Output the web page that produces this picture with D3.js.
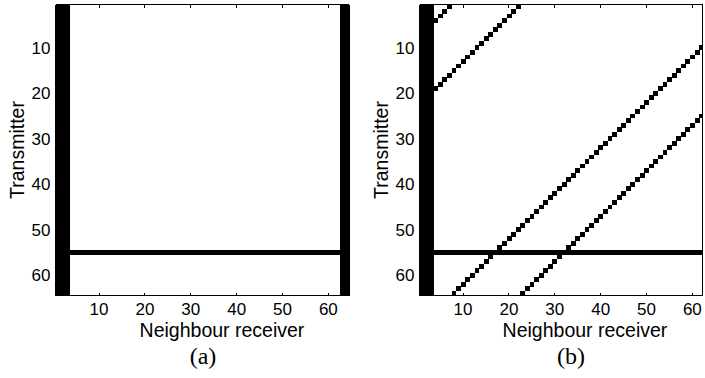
<!DOCTYPE html>
<html>
<head>
<meta charset="utf-8">
<script src="https://cdn.jsdelivr.net/npm/d3@7"></script>
<style>
  html, body { margin: 0; padding: 0; background: #fff; }
  svg { display: block; }
  text { font-family: "Liberation Sans", Arial, Helvetica, sans-serif; fill: #000; }
  .caption { font-family: "Liberation Serif", "Times New Roman", serif; }
</style>
</head>
<body>
<svg id="chart" width="705" height="378"></svg>
<script>
// matrix size (rows = transmitter, columns = neighbour receiver)
const nCells = 64;
const tickValues = [10, 20, 30, 40, 50, 60];

// cells that are black in both panels
const blackColumns = [1, 2, 3, 63, 64];
const blackRows = [55];

// panel (b) only: diagonal runs, one cell per column going up-right
const diagonalRuns = [
  { col: 4, row: 4, length: 4 },
  { col: 4, row: 19, length: 19 },
  { col: 8, row: 64, length: 57 },
  { col: 23, row: 64, length: 42 }
];

const panels = [
  { name: '(a)', left: 55.5, right: 349, clip: 349, diagonals: false, xLabel: 222, caption: 203 },
  { name: '(b)', left: 419.5, right: 713, clip: 702.5, diagonals: true, xLabel: 585, caption: 571 }
];

const yTop = 4.5, yBottom = 295.5;
const svg = d3.select('#chart');
svg.append('rect').attr('width', 705).attr('height', 378).attr('fill', '#fff');

panels.forEach((p, i) => {
  const x = d3.scaleLinear().domain([0.5, nCells + 0.5]).range([p.left, p.right]);
  const y = d3.scaleLinear().domain([0.5, nCells + 0.5]).range([yTop, yBottom]);

  svg.append('clipPath').attr('id', 'clip' + i)
    .append('rect')
    .attr('x', p.left).attr('y', yTop)
    .attr('width', p.clip - p.left).attr('height', yBottom - yTop);

  const g = svg.append('g').attr('clip-path', `url(#clip${i})`)
    .attr('shape-rendering', 'crispEdges');

  // build the list of black cells
  let cells = [];
  d3.range(1, nCells + 1).forEach(r => {
    blackColumns.forEach(c => cells.push({ r, c }));
  });
  d3.range(1, nCells + 1).forEach(c => {
    blackRows.forEach(r => cells.push({ r, c }));
  });
  if (p.diagonals) {
    diagonalRuns.forEach(d => {
      d3.range(d.length).forEach(k => cells.push({ r: d.row - k, c: d.col + k }));
    });
  }

  g.selectAll('rect.cell').data(cells).join('rect')
    .attr('class', 'cell')
    .attr('x', d => x(d.c - 0.5))
    .attr('y', d => y(d.r - 0.5))
    .attr('width', d => x(d.c + 0.5) - x(d.c - 0.5) + 0.3)
    .attr('height', d => y(d.r + 0.5) - y(d.r - 0.5) + 0.3)
    .attr('fill', '#000');

  // frame
  const fr = svg.append('g').attr('stroke', '#000').attr('stroke-width', 1)
    .attr('shape-rendering', 'crispEdges');
  fr.append('line').attr('x1', p.left).attr('x2', p.clip).attr('y1', yTop).attr('y2', yTop);
  fr.append('line').attr('x1', p.left).attr('x2', p.clip).attr('y1', yBottom).attr('y2', yBottom);
  fr.append('line').attr('x1', p.left).attr('x2', p.left).attr('y1', yTop).attr('y2', yBottom);
  fr.append('line').attr('x1', p.clip).attr('x2', p.clip).attr('y1', yTop).attr('y2', yBottom);

  // inward ticks top and bottom
  tickValues.forEach(v => {
    fr.append('line').attr('x1', x(v)).attr('x2', x(v)).attr('y1', yBottom).attr('y2', yBottom - 3);
    fr.append('line').attr('x1', x(v)).attr('x2', x(v)).attr('y1', yTop).attr('y2', yTop + 3);
  });

  // tick labels
  svg.append('g').selectAll('text').data(tickValues).join('text')
    .attr('x', d => x(d)).attr('y', 314.5)
    .attr('text-anchor', 'middle').attr('font-size', 17)
    .text(d => d);
  svg.append('g').selectAll('text').data(tickValues).join('text')
    .attr('x', p.left - 5).attr('y', d => y(d) + 6)
    .attr('text-anchor', 'end').attr('font-size', 17)
    .text(d => d);

  // axis titles
  svg.append('text')
    .attr('x', p.xLabel).attr('y', 337)
    .attr('text-anchor', 'middle').attr('font-size', 19.5)
    .text('Neighbour receiver');
  svg.append('text')
    .attr('transform', `translate(${p.left - 32},${(yTop + yBottom) / 2}) rotate(-90)`)
    .attr('text-anchor', 'middle').attr('font-size', 19.5)
    .text('Transmitter');

  svg.append('text').attr('class', 'caption')
    .attr('x', p.caption).attr('y', 364)
    .attr('text-anchor', 'middle').attr('font-size', 24)
    .text(p.name);
});
</script>
</body>
</html>
